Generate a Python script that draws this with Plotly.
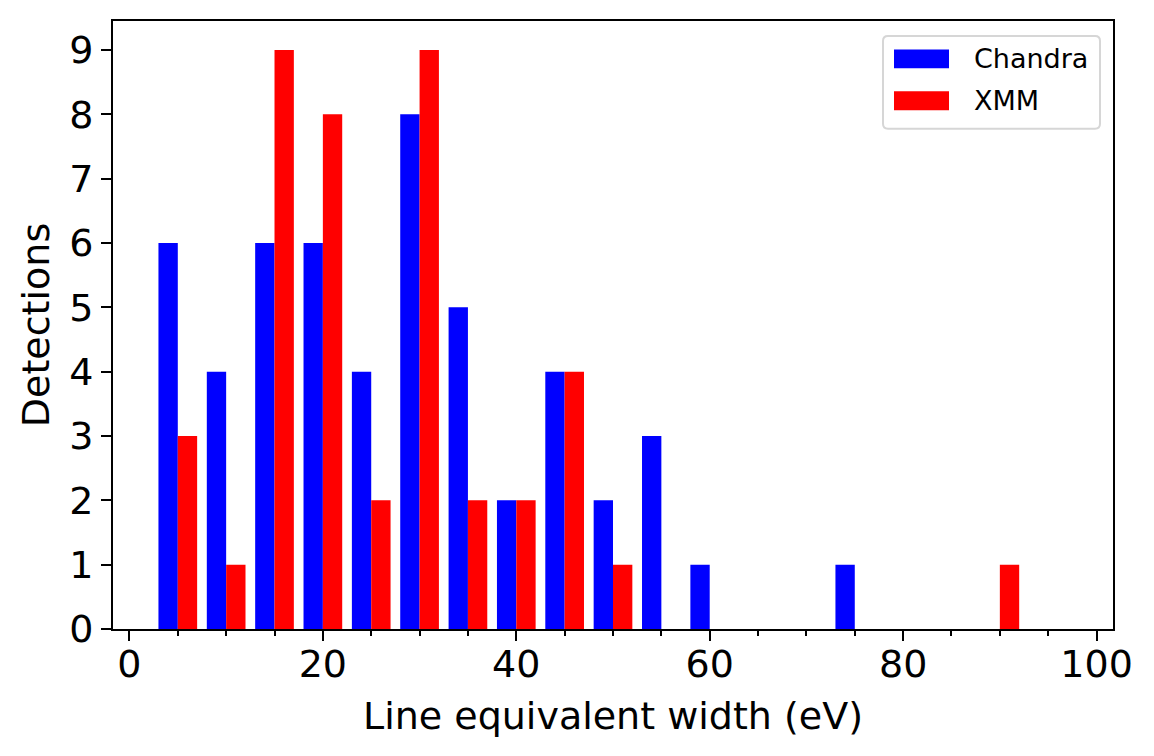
import plotly.graph_objects as go

# bin centres of the 5 eV histogram bins
bin_centres = [5, 10, 15, 20, 25, 30, 35, 40, 45, 50, 55, 60, 65, 70, 75, 80, 85, 90, 95]
chandra = [6, 4, 6, 6, 4, 8, 5, 2, 4, 2, 3, 1, 0, 0, 1, 0, 0, 0, 0]
xmm = [3, 1, 9, 8, 2, 9, 2, 2, 4, 1, 0, 0, 0, 0, 0, 0, 0, 1, 0]
series_names = ['Chandra', 'XMM']
series_colors = ['#0000ff', '#ff0000']

font = 'DejaVu Sans'

# plot area in figure pixels (the page body adds an 8px offset, margins compensate)
L, T, W, H = 105, 11, 1000, 610


def px(x, y):
    """figure pixel -> paper coords"""
    return (x - L) / W, (T + H - y) / H


fig = go.Figure()
for vals, name, color, off in zip([chandra, xmm], series_names, series_colors, [-2, 0]):
    fig.add_trace(go.Bar(x=bin_centres, y=vals, name=name, width=2, offset=off,
                         marker=dict(color=color, line=dict(width=0)),
                         showlegend=False))

axis_common = dict(
    showline=True, linecolor='black', linewidth=2, mirror=True,
    showgrid=False, zeroline=False,
    ticks='outside', ticklen=10, tickwidth=2, tickcolor='black',
    tickfont=dict(family=font, size=38, color='black'),
)

# matplotlib-style legend: rounded grey box, wide colour patches
shapes = []
annotations = []
bx0, by0 = px(875, 26)
bx1, by1 = px(1092, 119)
rx, ry = 5 / W, 5 / H
shapes.append(dict(
    type='path', xref='paper', yref='paper',
    path=(f'M {bx0 + rx},{by0} L {bx1 - rx},{by0} Q {bx1},{by0} {bx1},{by0 - ry} '
          f'L {bx1},{by1 + ry} Q {bx1},{by1} {bx1 - rx},{by1} '
          f'L {bx0 + rx},{by1} Q {bx0},{by1} {bx0},{by1 + ry} '
          f'L {bx0},{by0 - ry} Q {bx0},{by0} {bx0 + rx},{by0} Z'),
    line=dict(color='#d6d6d6', width=2), fillcolor='rgba(255,255,255,0.8)', layer='above',
))
for i, (name, color) in enumerate(zip(series_names, series_colors)):
    yc = 49 + i * 42
    x0, y0 = px(886, yc - 9.5)
    x1, y1 = px(941, yc + 9.5)
    shapes.append(dict(type='rect', xref='paper', yref='paper', x0=x0, x1=x1, y0=y0, y1=y1,
                       fillcolor=color, line=dict(width=0), layer='above'))
    tx, ty = px(964, yc)
    annotations.append(dict(text=name, xref='paper', yref='paper', x=tx, y=ty,
                            xanchor='left', yanchor='middle', showarrow=False,
                            font=dict(family=font, size=27, color='black')))

fig.update_layout(
    width=1154, height=756,
    paper_bgcolor='white', plot_bgcolor='white',
    margin=dict(l=L, r=1154 - L - W, t=T, b=756 - T - H),
    barmode='overlay',
    font=dict(family=font, color='black'),
    xaxis=dict(
        range=[-1.7, 101.7], tickmode='linear', tick0=0, dtick=20,
        minor=dict(dtick=5, ticks='outside', ticklen=5, tickwidth=2, tickcolor='black'),
        ticklabelstandoff=-10,
        title=dict(text='Line equivalent width (eV)', font=dict(family=font, size=38), standoff=18),
        **axis_common,
    ),
    yaxis=dict(
        range=[0, 9.45], tickmode='linear', tick0=0, dtick=1,
        title=dict(text='Detections', font=dict(family=font, size=38), standoff=8),
        **axis_common,
    ),
    shapes=shapes,
    annotations=annotations,
    showlegend=False,
)

fig.write_html("out.html")
